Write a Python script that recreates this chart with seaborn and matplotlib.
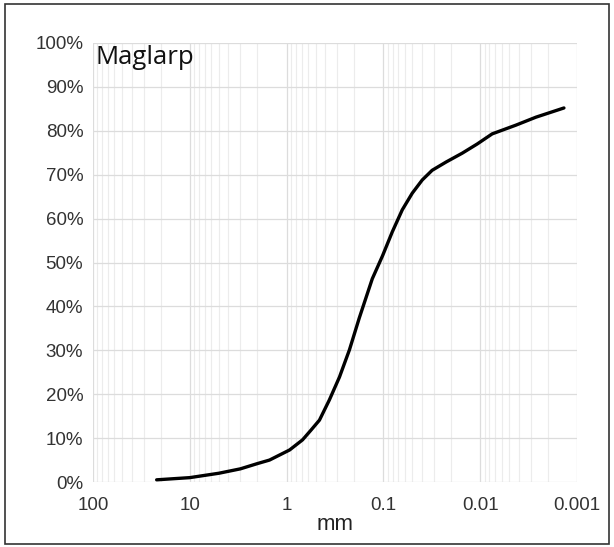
import pandas as pd
import seaborn as sns
import numpy as np
import matplotlib.pyplot as plt
from matplotlib.ticker import LogLocator, FuncFormatter, MultipleLocator, NullFormatter
from matplotlib.patches import Rectangle

sns.set_theme(style="whitegrid")
plt.rcParams['font.family'] = ['Liberation Sans', 'DejaVu Sans']

# Grain size distribution, Maglarp
size_mm = [22, 10, 5, 3, 2, 1.5, 0.93, 0.684, 0.56, 0.457, 0.361, 0.284,
           0.224, 0.177, 0.130, 0.102, 0.0807, 0.0637, 0.0502, 0.0396,
           0.0313, 0.0224, 0.0153, 0.0107, 0.0075, 0.00425, 0.00265, 0.00136]
passing_pct = [0.5, 1.0, 2.0, 3.0, 4.2, 5.0, 7.3, 9.6, 11.8, 14.1, 18.7, 23.9,
               30.1, 37.4, 46.3, 51.5, 57.0, 62.0, 65.8, 68.8,
               71.0, 72.9, 74.9, 77.0, 79.3, 81.3, 83.1, 85.2]
x_ticks = [100, 10, 1, 0.1, 0.01, 0.001]
x_tick_labels = ["100", "10", "1", "0.1", "0.01", "0.001"]

df = pd.DataFrame({'mm': size_mm, 'passing': passing_pct})

fig = plt.figure(figsize=(6.14, 5.47), dpi=100)
ax = fig.add_axes([0.1515, 0.1188, 0.788, 0.8026])

sns.lineplot(data=df, x='mm', y='passing', color='black', linewidth=2.4, ax=ax)
ax.lines[0].set_solid_joinstyle('round')

ax.set_xscale('log')
ax.set_xlim(100, 0.001)
ax.set_ylim(0, 100)

ax.set_xticks(x_ticks)
ax.set_xticklabels(x_tick_labels)
ax.xaxis.set_minor_locator(LogLocator(base=10, subs=np.arange(2, 10)))
ax.xaxis.set_minor_formatter(NullFormatter())
ax.yaxis.set_major_locator(MultipleLocator(10))
ax.yaxis.set_major_formatter(FuncFormatter(lambda v, p: f"{int(v)}%"))

ax.grid(which='major', axis='both', color='#dcdcdc', linewidth=0.9)
ax.grid(which='minor', axis='x', color='#ececec', linewidth=0.8)
for s in ax.spines.values():
    s.set_visible(False)
ax.tick_params(axis='both', which='both', length=0, labelsize=13.5, colors='#333333')
ax.tick_params(axis='x', pad=11)
ax.tick_params(axis='y', pad=7)

ax.set_xlabel('mm', fontsize=16, color='#222222', labelpad=0)
ax.set_ylabel('')
ax.text(0.005, 0.995, 'Maglarp', transform=ax.transAxes, fontsize=18.5,
        family=['Open Sans', 'DejaVu Sans'], color='#111111', va='top', ha='left')

fig.patches.append(Rectangle((0.008, 0.005), 0.984, 0.987, transform=fig.transFigure,
                             fill=False, edgecolor='#333333', linewidth=1.2))

fig.savefig('out.png', dpi=100)
